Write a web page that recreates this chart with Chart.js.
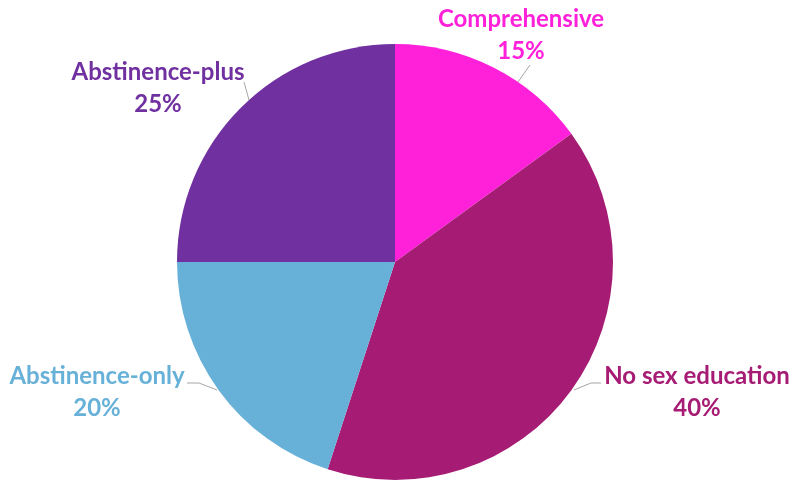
<!DOCTYPE html>
<html>
<head>
<meta charset="utf-8">
<script src="https://cdn.jsdelivr.net/npm/chart.js@4.4.1/dist/chart.umd.min.js"></script>
<style>
  html, body { margin: 0; padding: 0; background: #fff; overflow: hidden; }
  #wrap { width: 794px; height: 500px; position: relative; }
</style>
</head>
<body>
<div id="wrap"><canvas id="pieChart"></canvas></div>
<script>
const categories = ['Comprehensive', 'No sex education', 'Abstinence-only', 'Abstinence-plus'];
const shares = [15, 40, 20, 25];
const sliceColors = ['#FF21DA', '#A61C74', '#67B1D8', '#7030A0'];

// label centres and leader lines, relative to the pie centre (px)
const labelLayout = [
  { x: 126, y: -227, line: [[123, -180], [135, -197]] },
  { x: 302, y: 130, line: [[179, 128], [196, 121], [206, 121]] },
  { x: -298, y: 130, line: [[-178, 128], [-196, 121], [-208, 121]] },
  { x: -237, y: -174, line: [[-146, -162], [-151, -180]] }
];

const outsideLabels = {
  id: 'outsideLabels',
  afterDatasetsDraw(chart) {
    const ctx = chart.ctx;
    const arc = chart.getDatasetMeta(0).data[0];
    const cx = arc.x, cy = arc.y;
    ctx.save();
    labelLayout.forEach((l, i) => {
      ctx.beginPath();
      ctx.strokeStyle = '#A6A6A6';
      ctx.lineWidth = 1;
      l.line.forEach((p, j) => {
        if (j === 0) ctx.moveTo(cx + p[0], cy + p[1]);
        else ctx.lineTo(cx + p[0], cy + p[1]);
      });
      ctx.stroke();

      ctx.fillStyle = sliceColors[i];
      ctx.font = 'bold 24px Lato';
      ctx.textAlign = 'center';
      ctx.textBaseline = 'middle';
      ctx.fillText(categories[i], cx + l.x, cy + l.y - 16);
      ctx.fillText(shares[i] + '%', cx + l.x, cy + l.y + 16);
    });
    ctx.restore();
  }
};

new Chart(document.getElementById('pieChart'), {
  type: 'pie',
  data: {
    labels: categories,
    datasets: [{
      data: shares,
      backgroundColor: sliceColors,
      borderWidth: 0
    }]
  },
  options: {
    responsive: true,
    maintainAspectRatio: false,
    animation: false,
    layout: { padding: { top: 44, bottom: 20, left: 0, right: 4 } },
    plugins: {
      legend: { display: false },
      tooltip: { enabled: false }
    }
  },
  plugins: [outsideLabels]
});
</script>
</body>
</html>
